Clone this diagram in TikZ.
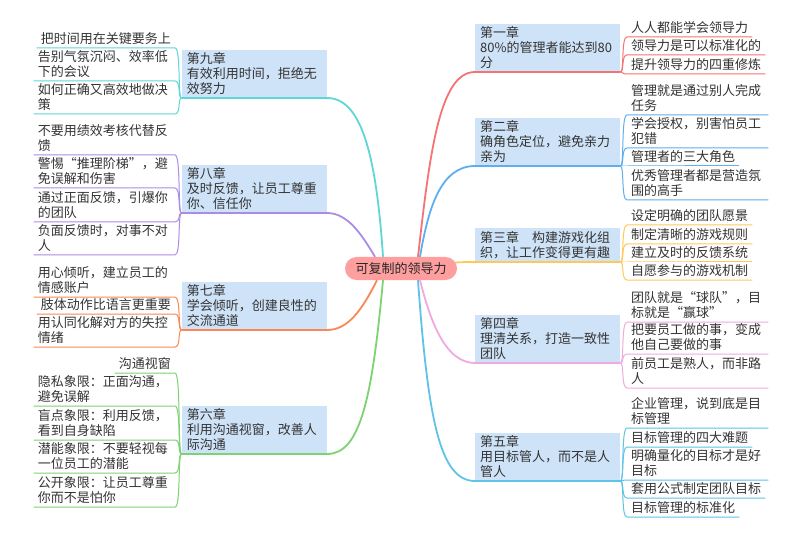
\documentclass[tikz,border=0pt]{standalone}
\usepackage{fontspec}
\setmainfont{Noto Sans CJK SC}
\newfontfamily\fwq[RawFeature=+fwid]{Noto Sans CJK SC}
\usetikzlibrary{calc}
\definecolor{cA}{RGB}{245,115,115}
\definecolor{cB}{RGB}{95,175,240}
\definecolor{cC}{RGB}{255,200,90}
\definecolor{cD}{RGB}{240,170,225}
\definecolor{cE}{RGB}{95,195,232}
\definecolor{cF}{RGB}{125,210,115}
\definecolor{cG}{RGB}{250,135,85}
\definecolor{cH}{RGB}{170,140,230}
\definecolor{cI}{RGB}{95,215,215}
\definecolor{chapfill}{RGB}{207,227,248}
\definecolor{rootfill}{RGB}{255,158,158}
\definecolor{txt}{RGB}{51,51,51}
\newcommand\tf{\fontsize{13}{15}\selectfont}
\newcommand\myLq{{\fwq “}}
\newcommand\myRq{{\fwq ”}}
\tikzset{
  chap/.style={fill=chapfill, text=txt, align=left, text width=135pt, inner xsep=5pt, inner ysep=3pt, font=\tf},
  leaf/.style={text=txt, inner xsep=4pt, inner ysep=3pt, font=\tf},
  leafw/.style={leaf, text width=133pt, align=left},
  rootbox/.style={rounded corners=11.5pt, fill=rootfill, text=black!85, minimum width=112pt, minimum height=23pt, inner sep=0pt, font=\tf},
  br/.style={line width=1.8pt},
  lf/.style={line width=1pt},
}
\begin{document}
\begin{tikzpicture}[x=1pt,y=-1pt]
\useasboundingbox (0,0) rectangle (800,537);
\fill[white] (0,0) rectangle (800,537);
\node[rootbox] (root) at (401,268.5) {可复制的领导力};

% chapters right
\node[chap, anchor=south west] (ch1) at (475,72) {第一章\\80\%的管理者能达到80\\分};
\node[chap, anchor=south west] (ch2) at (475,166) {第二章\\确角色定位，避免亲力\\亲为};
\node[chap, anchor=south west] (ch3) at (475,262) {第三章　构建游戏化组\\织，让工作变得更有趣};
\node[chap, anchor=south west] (ch4) at (475,363) {第四章\\理清关系，打造一致性\\团队};
\node[chap, anchor=south west] (ch5) at (475,481) {第五章\\用目标管人，而不是人\\管人};
% chapters left
\node[chap, anchor=south east] (ch9) at (327,98) {第九章\\有效利用时间，拒绝无\\效努力};
\node[chap, anchor=south east] (ch8) at (327,213) {第八章\\及时反馈，让员工尊重\\你、信任你};
\node[chap, anchor=south east] (ch7) at (327,330) {第七章\\学会倾听，创建良性的\\交流通道};
\node[chap, anchor=south east] (ch6) at (327,454) {第六章\\利用沟通视窗，改善人\\际沟通};

% main branches
\draw[br,cA] ($(root.north)+(17,0)$) .. controls (430,150) and (440,72) .. (ch1.south west) -- (ch1.south east);
\draw[br,cB] ($(root.north)+(19,0)$) .. controls (428,210) and (440,166) .. (ch2.south west) -- (ch2.south east);
\draw[br,cC] ($(root.east)+(-2,-6)$) .. controls (465,262) and (468,262) .. (ch3.south west) -- (ch3.south east);
\draw[br,cD] ($(root.south)+(19,0)$) .. controls (430,320) and (445,363) .. (ch4.south west) -- (ch4.south east);
\draw[br,cE] ($(root.south)+(17,0)$) .. controls (428,420) and (440,481) .. (ch5.south west) -- (ch5.south east);
\draw[br,cI] ($(root.north)+(-18,0)$) .. controls (376,150) and (360,98) .. (ch9.south east) -- (ch9.south west);
\draw[br,cH] ($(root.north)+(-26,0)$) .. controls (362,235) and (348,213) .. (ch8.south east) -- (ch8.south west);
\draw[br,cG] ($(root.south)+(-24,0)$) .. controls (362,310) and (348,330) .. (ch7.south east) -- (ch7.south west);
\draw[br,cF] ($(root.south)+(-18,0)$) .. controls (372,400) and (360,454) .. (ch6.south east) -- (ch6.south west);

% leaves right
\node[leaf, anchor=south west] (l11) at (627,37) {人人都能学会领导力};
\node[leaf, anchor=south west] (l12) at (627,55) {领导力是可以标准化的};
\node[leaf, anchor=south west] (l13) at (627,74) {提升领导力的四重修炼};
\node[leafw, anchor=south west] (l21) at (627,115) {管理就是通过别人完成\\任务};
\node[leafw, anchor=south west] (l22) at (627,148) {学会授权，别害怕员工\\犯错};
\node[leaf, anchor=south west] (l23) at (627,166) {管理者的三大角色};
\node[leafw, anchor=south west] (l24) at (627,200) {优秀管理者都是营造氛\\围的高手};
\node[leaf, anchor=south west] (l31) at (627,225) {设定明确的团队愿景};
\node[leaf, anchor=south west] (l32) at (627,244) {制定清晰的游戏规则};
\node[leaf, anchor=south west] (l33) at (627,262) {建立及时的反馈系统};
\node[leaf, anchor=south west] (l34) at (627,280) {自愿参与的游戏机制};
\node[leafw, anchor=south west] (l41) at (627,322) {团队就是\myLq 球队\myRq ，目\\标就是\myLq 赢球\myRq};
\node[leafw, anchor=south west] (l42) at (627,354) {把要员工做的事，变成\\他自己要做的事};
\node[leafw, anchor=south west] (l43) at (627,388) {前员工是熟人，而非路\\人};
\node[leafw, anchor=south west] (l51) at (627,428) {企业管理，说到底是目\\标管理};
\node[leaf, anchor=south west] (l52) at (627,447) {目标管理的四大难题};
\node[leafw, anchor=south west] (l53) at (627,480) {明确量化的目标才是好\\目标};
\node[leaf, anchor=south west] (l54) at (627,498) {套用公式制定团队目标};
\node[leaf, anchor=south west] (l55) at (627,517) {目标管理的标准化};

% leaves left
\node[leaf, anchor=south east] (l91) at (175,48) {把时间用在关键要务上};
\node[leafw, anchor=south east] (l92) at (175,81) {告别气氛沉闷、效率低\\下的会议};
\node[leafw, anchor=south east] (l93) at (175,114) {如何正确又高效地做决\\策};
\node[leafw, anchor=south east] (l81) at (175,155) {不要用绩效考核代替反\\馈};
\node[leafw, anchor=south east] (l82) at (175,188) {警惕\myLq 推理阶梯\myRq ，避\\免误解和伤害};
\node[leafw, anchor=south east] (l83) at (175,222) {通过正面反馈，引爆你\\的团队};
\node[leafw, anchor=south east] (l84) at (175,255) {负面反馈时，对事不对\\人};
\node[leafw, anchor=south east] (l71) at (175,297) {用心倾听，建立员工的\\情感账户};
\node[leaf, anchor=south east] (l72) at (175,314) {肢体动作比语言更重要};
\node[leafw, anchor=south east] (l73) at (175,347) {用认同化解对方的失控\\情绪};
\node[leaf, anchor=south east] (l61) at (175,373) {沟通视窗};
\node[leafw, anchor=south east] (l62) at (175,406) {隐私象限：正面沟通，\\避免误解};
\node[leafw, anchor=south east] (l63) at (175,440) {盲点象限：利用反馈，\\看到自身缺陷};
\node[leafw, anchor=south east] (l64) at (175,473) {潜能象限：不要轻视每\\一位员工的潜能};
\node[leafw, anchor=south east] (l65) at (175,507) {公开象限：让员工尊重\\你而不是怕你};

% leaf connectors right
\foreach \c/\col/\ls in {ch1/cA/{l11,l12,l13}, ch2/cB/{l21,l22,l23,l24}, ch3/cC/{l31,l32,l33,l34}, ch4/cD/{l41,l42,l43}, ch5/cE/{l51,l52,l53,l54,l55}}{
  \foreach \l in \ls {
    \draw[lf,\col] (\c.south east) .. controls +(4,0) and +(-6,0) .. (\l.south west) -- (\l.south east);
  }
}
% leaf connectors left
\foreach \c/\col/\ls in {ch9/cI/{l91,l92,l93}, ch8/cH/{l81,l82,l83,l84}, ch7/cG/{l71,l72,l73}, ch6/cF/{l61,l62,l63,l64,l65}}{
  \foreach \l in \ls {
    \draw[lf,\col] (\c.south west) .. controls +(-4,0) and +(6,0) .. (\l.south east) -- (\l.south west);
  }
}
\end{tikzpicture}
\end{document}
